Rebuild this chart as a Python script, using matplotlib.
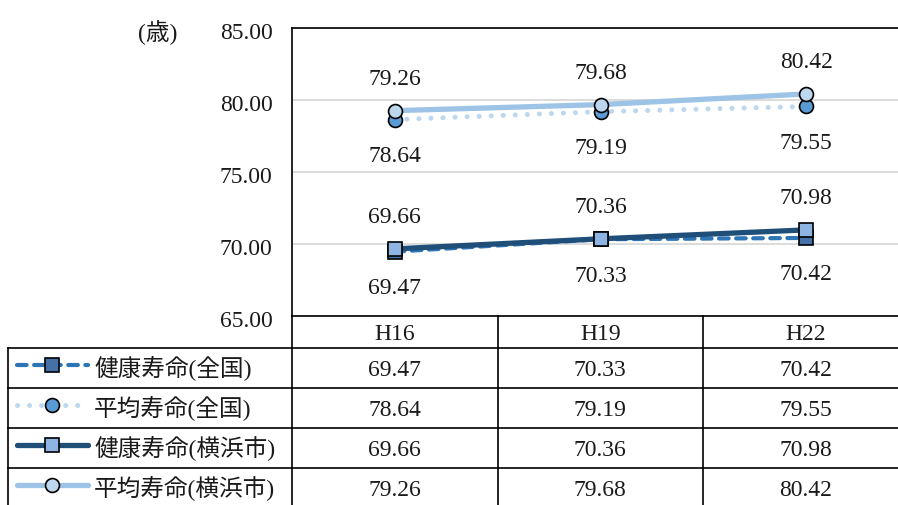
import matplotlib
matplotlib.use('Agg')
import matplotlib.pyplot as plt
from matplotlib.lines import Line2D
import matplotlib.transforms as mtransforms

# ---- data ----
categories = ['H16', 'H19', 'H22']
health_national = [69.47, 70.33, 70.42]
life_national = [78.64, 79.19, 79.55]
health_yokohama = [69.66, 70.36, 70.98]
life_yokohama = [79.26, 79.68, 80.42]
series_names = ['健康寿命(全国)', '平均寿命(全国)', '健康寿命(横浜市)', '平均寿命(横浜市)']
y_ticks = [65, 70, 75, 80, 85]
unit_label = '(歳)'

series_values = [health_national, life_national, health_yokohama, life_yokohama]

plt.rcParams['font.family'] = ['Liberation Serif', 'Noto Sans CJK JP', 'DejaVu Sans']

W, H = 898, 505
fig = plt.figure(figsize=(W / 100, H / 100), dpi=100)


def px(x0, y0, x1, y1):
    return [x0 / W, 1 - y1 / H, (x1 - x0) / W, (y1 - y0) / H]


FS = 17
TC = '#1a1a1a'
DY = 3  # downward text nudge in pixels
styles = [
    dict(color='#2E75B6', lw=3.0, ls=(0, (2.3, 1.8)), marker='s', mfc='#4472A8', ms=10.5,
         dash_capstyle='round'),
    dict(color='#BDD7EE', lw=3.6, ls=(0, (0.01, 2.4)), marker='o', mfc='#5B9BD5', ms=10,
         dash_capstyle='round'),
    dict(color='#1F4E79', lw=3.8, ls='-', marker='s', mfc='#8DB4E2', ms=10.5,
         dash_capstyle='round'),
    dict(color='#9DC3E6', lw=3.8, ls='-', marker='o', mfc='#BDD7EE', ms=10,
         dash_capstyle='round'),
]
label_side = [-1, -1, 1, 1]

ax = fig.add_axes(px(292, 28, 909, 316))
x = list(range(len(categories)))
for k, (vals, st) in enumerate(zip(series_values, styles)):
    ax.plot(x, vals, color=st['color'], lw=st['lw'], ls=st['ls'],
            dash_capstyle=st['dash_capstyle'], solid_capstyle='butt',
            marker=st['marker'], markersize=st['ms'], markerfacecolor=st['mfc'],
            markeredgecolor='black', markeredgewidth=1.2, zorder=3 + k)
    for i, v in enumerate(vals):
        off = 34 * label_side[k] - DY
        ax.annotate(f'{v:.2f}', (i, v), xytext=(0, off * 0.72),
                    textcoords='offset points', ha='center', va='center',
                    fontsize=FS, color=TC)

ax.set_xlim(-0.5, len(categories) - 0.5)
ax.set_ylim(y_ticks[0], y_ticks[-1])
ax.set_yticks(y_ticks)
ax.set_yticklabels([f'{t:.2f}' for t in y_ticks], fontsize=FS, color=TC)
ax.set_xticks([])
ax.tick_params(axis='y', length=0, pad=14)
shift = mtransforms.ScaledTranslation(0, -DY / 100, fig.dpi_scale_trans)
for lbl in ax.get_yticklabels():
    lbl.set_transform(lbl.get_transform() + shift)
ax.yaxis.grid(True, color='#D9D9D9', lw=1.3)
ax.set_axisbelow(True)
for s in ['left', 'top', 'bottom']:
    ax.spines[s].set_color('black')
    ax.spines[s].set_linewidth(1.2)
ax.spines['right'].set_visible(False)

# ---- overlay for data table ----
ov = fig.add_axes([0, 0, 1, 1])
ov.set_xlim(0, W)
ov.set_ylim(H, 0)
ov.axis('off')
ov.patch.set_visible(False)

col_x = [292, 497.5, 703, 909]
left = 8
row_y = [316, 348, 388, 428, 468, 508]
lk = dict(color='black', lw=1.2)
for y in row_y[1:]:
    ov.plot([left, col_x[-1]], [y, y], **lk)
ov.plot([left, left], [row_y[1], row_y[-1]], **lk)
for cx in col_x[:-1]:
    ov.plot([cx, cx], [row_y[0], row_y[-1]], **lk)

for j, c in enumerate(categories):
    xc = (col_x[j] + col_x[j + 1]) / 2
    ov.text(xc, (row_y[0] + row_y[1]) / 2 + DY, c, ha='center', va='center',
            fontsize=FS, color=TC)

for k, (name, vals, st) in enumerate(zip(series_names, series_values, styles)):
    yc = (row_y[k + 1] + row_y[k + 2]) / 2
    ky = yc - 3
    ov.add_line(Line2D([17, 88], [ky, ky], color=st['color'], lw=st['lw'], ls=st['ls'],
                       dash_capstyle=st['dash_capstyle'], solid_capstyle='round'))
    ov.add_line(Line2D([52], [ky], marker=st['marker'], markersize=st['ms'],
                       markerfacecolor=st['mfc'], markeredgecolor='black',
                       markeredgewidth=1.2, ls='none'))
    ov.text(94, yc + 1, name, ha='left', va='center', fontsize=FS, color=TC)
    for j, v in enumerate(vals):
        xc = (col_x[j] + col_x[j + 1]) / 2
        ov.text(xc, yc + DY, f'{v:.2f}', ha='center', va='center', fontsize=FS, color=TC)

ov.text(158, 30 + DY, unit_label, ha='center', va='center', fontsize=FS, color=TC)

fig.savefig('out.png', dpi=100)
